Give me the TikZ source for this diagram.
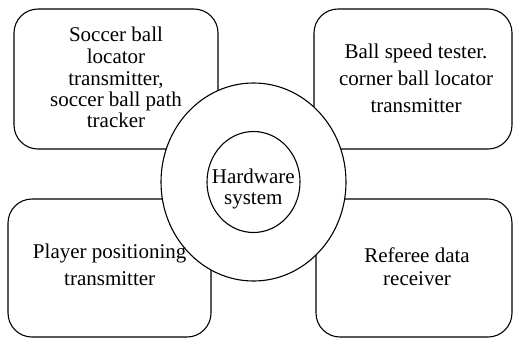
\documentclass[tikz,border=0pt]{standalone}
\usepackage{fontspec}
\setmainfont{Liberation Serif}
\usetikzlibrary{shapes.geometric}
\begin{document}
\begin{tikzpicture}[x=1pt,y=-1pt,line width=1.1pt,
  panel/.style={draw, rectangle, rounded corners=24pt, inner sep=0pt},
  disc/.style={draw, fill=white, ellipse, inner sep=0pt},
  lbl/.style={anchor=base, inner sep=0pt, font=\fontsize{21}{25}\selectfont}]
\useasboundingbox (0,0) rectangle (513,338);
% four rounded panels
\node[panel, minimum width=204pt, minimum height=140pt] (tl) at (116,79) {};
\node[panel, minimum width=198pt, minimum height=140pt] (tr) at (413,79) {};
\node[panel, minimum width=203pt, minimum height=138pt] (bl) at (109.5,268) {};
\node[panel, minimum width=196pt, minimum height=138pt] (br) at (414,268) {};
% central rings
\node[disc, minimum width=185pt, minimum height=198pt] (ring) at (253.5,182) {};
\node[disc, minimum width=93pt, minimum height=101pt] (core) at (253.5,182) {};
% panel texts
\node[lbl] (tl1) at (116,41.7) {Soccer ball};
\node[lbl] (tl2) at (116,63.3) {locator};
\node[lbl] (tl3) at (116,85) {transmitter,};
\node[lbl] (tl4) at (116,106.7) {soccer ball path};
\node[lbl] (tl5) at (116,127.5) {tracker};
\node[lbl] (tr1) at (416,58) {Ball speed tester.};
\node[lbl] (tr2) at (416,85) {corner ball locator};
\node[lbl] (tr3) at (416,112) {transmitter};
\node[lbl] (bl1) at (109.7,258.5) {Player positioning};
\node[lbl] (bl2) at (109.7,285.7) {transmitter};
\node[lbl] (br1) at (417,262.3) {Referee data};
\node[lbl] (br2) at (417,285) {receiver};
\node[lbl] (hw1) at (253.3,183.3) {Hardware};
\node[lbl] (hw2) at (253.3,204.3) {system};
\end{tikzpicture}
\end{document}
